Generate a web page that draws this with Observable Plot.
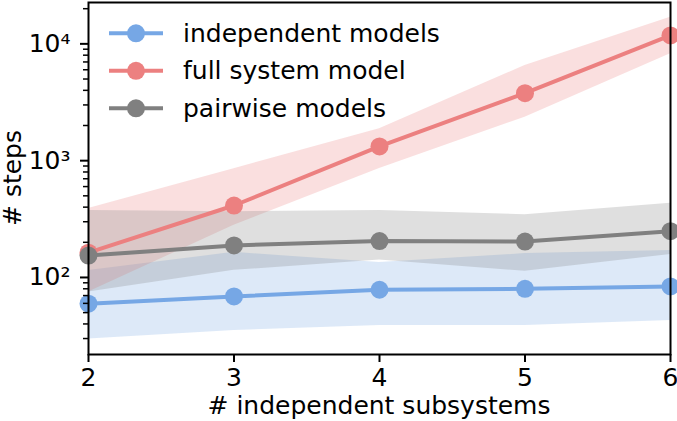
<!DOCTYPE html>
<html><head><meta charset="utf-8">
<script src="https://cdn.jsdelivr.net/npm/d3@7"></script>
<script src="https://cdn.jsdelivr.net/npm/@observablehq/plot@0.6"></script>
<style>body{margin:0;background:#fff} svg{display:block}</style>
</head><body><div id="chart"></div>
<script>
// ---- data ----
const subsystems = [2, 3, 4, 5, 6];
const seriesNames = ["independent models", "full system model", "pairwise models"];
const seriesColors = ["#76a7e5", "#ec8080", "#808080"];

const independentMean = [59.6, 68.8, 78.5, 80, 83.8];
const independentLow  = [29.8, 35.2, 38.8, 38.8, 42.9];
const independentHigh = [114.8, 164, 134, 160, 170];

const fullMean = [163, 413, 1324, 3785, 11800];
const fullLow  = [75, 280, 857, 2355, 8220];
const fullHigh = [390, 853, 1876, 6530, 16900];

const pairwiseMean = [154, 188, 205, 203, 249];
const pairwiseLow  = [75, 115, 141, 113, 157];
const pairwiseHigh = [374, 365, 375, 345, 432];

const yMajorTicks = [100, 1000, 10000];
const yMinorTicks = [30, 40, 50, 60, 70, 80, 90, 200, 300, 400, 500, 600, 700, 800, 900,
                     2000, 3000, 4000, 5000, 6000, 7000, 8000, 9000, 20000];
const xTicks = [2, 3, 4, 5, 6];
const xTitle = "# independent subsystems";
const yTitle = "# steps";

// ---- build tables ----
const means = [independentMean, fullMean, pairwiseMean];
const lows = [independentLow, fullLow, pairwiseLow];
const highs = [independentHigh, fullHigh, pairwiseHigh];
const series = seriesNames.map((name, s) => subsystems.map((x, i) => ({
  series: name, x, mean: means[s][i], lo: lows[s][i], hi: highs[s][i]
})));

const sup = {2: "\u00B2", 3: "\u00B3", 4: "\u2074"};
const FONT = "DejaVu Sans";
const LW = 4;

const marks = [];
series.forEach((rows, s) => marks.push(
  Plot.areaY(rows, {x: "x", y1: "lo", y2: "hi", fill: seriesColors[s], fillOpacity: 0.25})
));
series.forEach((rows, s) => {
  marks.push(Plot.line(rows, {x: "x", y: "mean", stroke: seriesColors[s], strokeWidth: LW}));
  marks.push(Plot.dot(rows, {x: "x", y: "mean", fill: seriesColors[s], r: 9}));
});
marks.push(
  Plot.axisY(yMinorTicks, {tickSize: 5, strokeWidth: 1.5, tickFormat: () => "", label: null}),
  Plot.axisY(yMajorTicks, {tickSize: 8, tickPadding: 10, strokeWidth: 2, label: null,
    tickFormat: d => "10" + sup[Math.round(Math.log10(d))], fontSize: 25}),
  Plot.axisX(xTicks, {tickSize: 8, tickPadding: 6, strokeWidth: 2, label: null,
    tickFormat: d => String(d), fontSize: 25}),
  Plot.frame({stroke: "black", strokeWidth: 2})
);

const plot = Plot.plot({
  width: 677, height: 421,
  marginLeft: 88, marginRight: 7, marginTop: 2, marginBottom: 67,
  style: {fontFamily: FONT, fontSize: "25px", background: "white", color: "black"},
  x: {domain: [2, 6]},
  y: {type: "log", domain: [21.9, 22600]},
  marks
});

const svg = d3.select(plot);
svg.selectAll("g[aria-label$='tick label'], g[aria-label$='tick label'] text")
  .attr("font-size", 25).style("font-size", "25px");

// ---- axis titles and legend ----
svg.append("text").text(xTitle)
  .attr("x", 379).attr("y", 414).attr("text-anchor", "middle")
  .attr("font-family", FONT).attr("font-size", 25).attr("fill", "black");
svg.append("text").text(yTitle)
  .attr("transform", "translate(20.5,178) rotate(-90)").attr("text-anchor", "middle")
  .attr("font-family", FONT).attr("font-size", 25).attr("fill", "black");

const lg = svg.append("g");
seriesNames.forEach((name, i) => {
  const y = 33.3 + i * 37.5;
  lg.append("line").attr("x1", 109).attr("x2", 163).attr("y1", y).attr("y2", y)
    .attr("stroke", seriesColors[i]).attr("stroke-width", LW);
  lg.append("circle").attr("cx", 136).attr("cy", y).attr("r", 9).attr("fill", seriesColors[i]);
  lg.append("text").text(name).attr("x", 183).attr("y", y + 8.5)
    .attr("text-anchor", "start")
    .attr("font-family", FONT).attr("font-size", 25).attr("fill", "black");
});

document.getElementById("chart").appendChild(plot);
</script>
</body></html>
